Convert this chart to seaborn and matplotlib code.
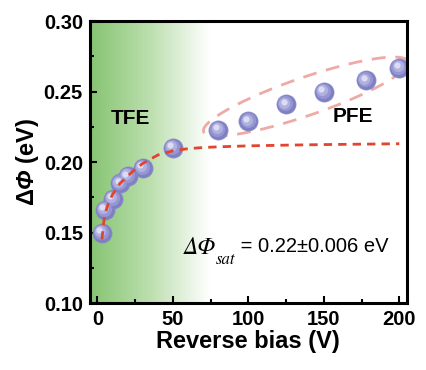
import numpy as np
import pandas as pd
import matplotlib
matplotlib.use("Agg")
import matplotlib.pyplot as plt
import seaborn as sns
from matplotlib.colors import LinearSegmentedColormap
from matplotlib.ticker import MultipleLocator
from matplotlib.transforms import offset_copy

# data
bias = [3, 5, 10, 15, 20, 30, 50, 80, 100, 125, 150, 178, 200]
dphi = [0.150, 0.166, 0.174, 0.185, 0.190, 0.196, 0.210,
        0.223, 0.229, 0.241, 0.250, 0.258, 0.267]

# dashed fit curve, read at a few biases
fit_bias = [3, 4, 5, 7, 10, 15, 20, 25, 30, 40, 50, 60, 70, 80, 100, 125, 150, 175, 200]
fit_dphi = [0.145, 0.156, 0.163, 0.170, 0.177, 0.185, 0.190, 0.195, 0.199, 0.205,
            0.208, 0.2095, 0.2103, 0.2108, 0.2115, 0.212, 0.2124, 0.2127, 0.213]

df = pd.DataFrame({"bias": bias, "dphi": dphi})
fit = pd.DataFrame({"bias": fit_bias, "dphi": fit_dphi})

sns.set_style("ticks")
plt.rcParams["font.family"] = ["Liberation Sans", "DejaVu Sans"]
plt.rcParams["mathtext.fontset"] = "custom"
plt.rcParams["mathtext.bf"] = "Liberation Sans:bold:italic"
plt.rcParams["text.color"] = "black"
plt.rcParams["axes.labelcolor"] = "black"
plt.rcParams["xtick.color"] = "black"
plt.rcParams["ytick.color"] = "black"

fig = plt.figure(figsize=(4.26, 3.70), dpi=100)
ax = fig.add_axes([0.211, 0.181, 0.744, 0.762])
ax.set_xlim(-5, 205)
ax.set_ylim(0.10, 0.30)

# green gradient on the TFE side
cmap = LinearSegmentedColormap.from_list("g", ["#86c472", "#bcdfae", "#ffffff"])
grad = np.linspace(0, 1, 256).reshape(1, -1)
ax.imshow(grad, cmap=cmap, aspect="auto", extent=[-5, 74, 0.10, 0.30],
          zorder=0, interpolation="bicubic")

# spheres: base plus shaded layers
sns.scatterplot(data=df, x="bias", y="dphi", s=190, color="#7f80c4",
                edgecolor="#8a8ac8", linewidth=0.5, ax=ax, zorder=3, legend=False)
for k, (sz, col) in enumerate([(120, "#9596d2"), (65, "#b0b1e0"), (20, "#dcdcf3")]):
    tr = offset_copy(ax.transData, fig=fig, x=-0.6 * (k + 1), y=0.6 * (k + 1), units="points")
    ax.scatter(df["bias"], df["dphi"], s=sz, color=col, linewidth=0, zorder=4 + k, transform=tr)

# fit line
sns.lineplot(data=fit, x="bias", y="dphi", ax=ax, color="#e0452f", lw=2.0,
             linestyle=(0, (3, 2.2)), zorder=8)

# ellipse around PFE points (drawn in pixel-like units)
px_x, px_y = 317 / 210, 282 / 0.2
cx, cy = 138, 0.2465
a, b, th = 108, 19, np.deg2rad(19)
t = np.linspace(0, 2 * np.pi, 300)
u, v = a * np.cos(t), b * np.sin(t)
ex = cx + (u * np.cos(th) - v * np.sin(th)) / px_x
ey = cy + (u * np.sin(th) + v * np.cos(th)) / px_y
ax.plot(ex, ey, color="#eeaaa6", lw=2.0, linestyle=(0, (5, 3.5)), zorder=2, clip_on=True)

ax.text(22, 0.231, "TFE", fontsize=15, fontweight="bold", ha="center", va="center", zorder=9)
ax.text(169, 0.232, "PFE", fontsize=15, fontweight="bold", ha="center", va="center", zorder=9)

# Delta Phi_sat annotation: serif italic symbol, sans value
t1 = ax.text(57, 0.139, "ΔΦ", family="STIXGeneral", style="italic", fontsize=17,
             ha="left", va="center", zorder=9)
t2 = ax.annotate("sat", xy=(1, 0), xycoords=t1, xytext=(0, 0), textcoords="offset points",
                 family="STIXGeneral", style="italic", fontsize=12, ha="left", va="center",
                 zorder=9)
ax.annotate(" = 0.22±0.006 eV", xy=(1, 0.5), xycoords=(t2, t1), xytext=(0, 1),
            textcoords="offset points", fontsize=14.5, ha="left", va="center", zorder=9)

ax.set_xlabel("Reverse bias (V)", fontsize=17, fontweight="bold", labelpad=1)
ax.set_ylabel(r"Δ$\mathbf{Φ}$ (eV)", fontsize=17, fontweight="bold", labelpad=2)
ax.set_xticks([0, 50, 100, 150, 200])
ax.set_yticks([0.10, 0.15, 0.20, 0.25, 0.30])
ax.set_yticklabels(["0.10", "0.15", "0.20", "0.25", "0.30"])
ax.xaxis.set_minor_locator(MultipleLocator(25))
ax.yaxis.set_minor_locator(MultipleLocator(0.025))
ax.tick_params(which="both", direction="in", width=1.5, labelsize=14.5)
ax.tick_params(which="major", length=5, pad=5)
ax.tick_params(which="minor", length=3)
for lab in ax.get_xticklabels() + ax.get_yticklabels():
    lab.set_fontweight("bold")
for sp in ax.spines.values():
    sp.set_linewidth(2.2)
    sp.set_color("black")
    sp.set_visible(True)
    sp.set_zorder(10)

fig.savefig("out.png", dpi=100)
